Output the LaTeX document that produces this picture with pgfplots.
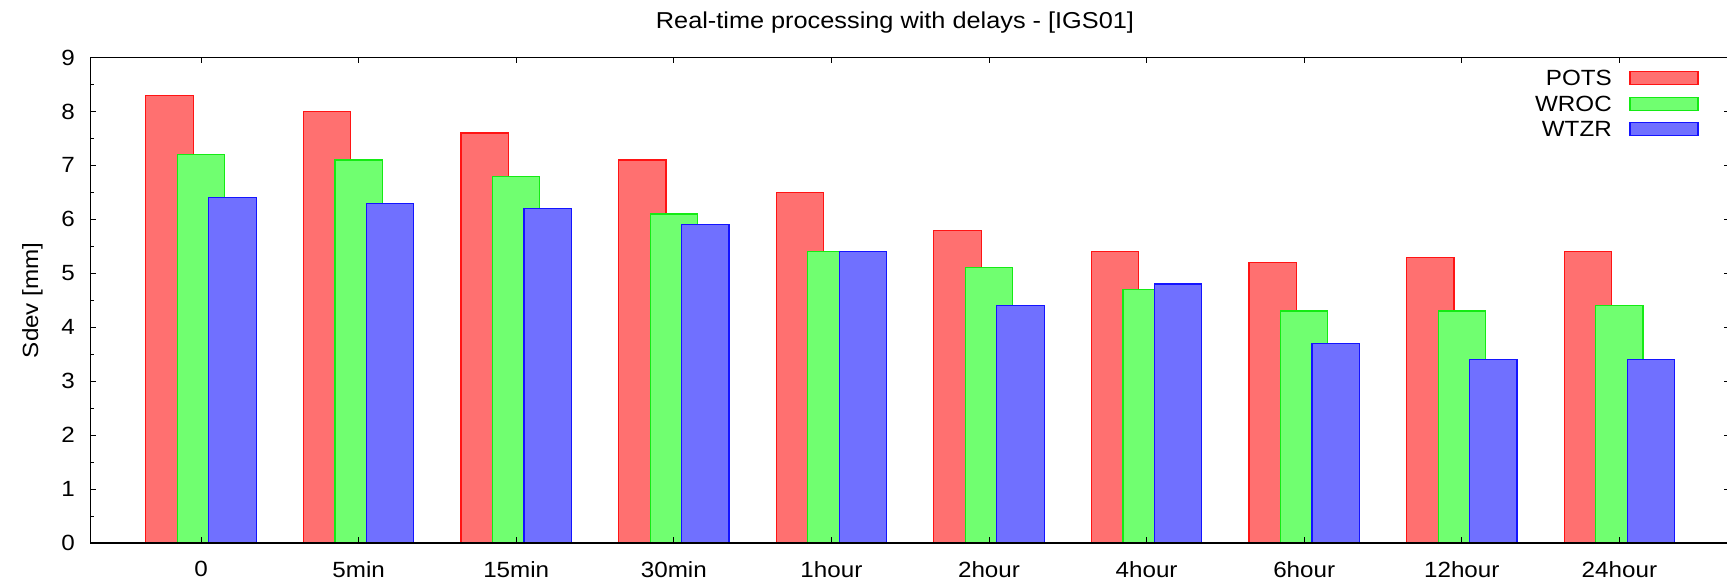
\documentclass[border=0pt]{standalone}
\usepackage{pgfplots}
\pgfplotsset{compat=1.18}
\usepackage{fontspec}
\setmainfont{Liberation Sans}[FakeStretch=1.1]
\definecolor{fr}{RGB}{255,112,112}
\definecolor{er}{RGB}{255,20,20}
\definecolor{fg}{RGB}{112,255,112}
\definecolor{eg}{RGB}{20,235,20}
\definecolor{fb}{RGB}{112,112,255}
\definecolor{eb}{RGB}{20,20,255}
\newcommand{\ff}{\fontsize{11}{13}\selectfont}
\newcommand{\tf}{\fontsize{11.5}{13.5}\selectfont}
\pgfplotsset{
  boxlegend/.style={legend image code/.code={\draw[##1] (0pt,-2.6pt) rectangle (34pt,3.8pt);}},
  mybar/.style={ybar, bar width=0.3, line width=0.6pt, boxlegend},
}
\begin{document}
\begin{tikzpicture}
\begin{axis}[
  scale only axis, width=819.5pt, height=242.75pt,
  xmin=-0.7, xmax=9.7, ymin=0, ymax=9,
  xtick={0,...,9},
  xticklabels={0,5min,15min,30min,1hour,2hour,4hour,6hour,12hour,24hour},
  ytick={0,...,9}, minor ytick={0.5,1.5,...,8.5},
  tick align=inside, major tick length=2.8pt, minor tick length=1.6pt,
  tick style={black, line width=0.5pt},
  axis line style={line width=0.6pt, black},
  /pgf/number format/assume math mode=true,
  tick label style={font=\ff},
  yticklabel style={xshift=-4.4pt},
  xticklabel style={yshift=-5.7pt},
  ylabel={Sdev [mm]},
  ylabel style={font=\ff, at={(axis description cs:-0.0355,0.5)}, anchor=center},
  every axis title shift=0pt,
  title={Real-time processing with delays - [IGS01]},
  title style={font=\tf, at={(axis description cs:0.4907,1.0602)}, anchor=base},
  legend plot pos=right, legend cell align=right,
  legend style={draw=none, fill=none, font=\ff, inner sep=0pt,
    at={(axis description cs:0.9813,0.9747)}, anchor=north east,
    row sep=3.6pt, column sep=8.85pt, nodes={inner sep=0pt}},
  axis on top,
]
\addplot[mybar, bar shift=-0.2, fill=fr, draw=er]
  coordinates {(0,8.3) (1,8.0) (2,7.6) (3,7.1) (4,6.5) (5,5.8) (6,5.4) (7,5.2) (8,5.3) (9,5.4)};
\addlegendentry{POTS}
\addplot[mybar, bar shift=0, fill=fg, draw=eg]
  coordinates {(0,7.2) (1,7.1) (2,6.8) (3,6.1) (4,5.4) (5,5.1) (6,4.7) (7,4.3) (8,4.3) (9,4.4)};
\addlegendentry{WROC}
\addplot[mybar, bar shift=0.2, fill=fb, draw=eb]
  coordinates {(0,6.4) (1,6.3) (2,6.2) (3,5.9) (4,5.4) (5,4.4) (6,4.8) (7,3.7) (8,3.4) (9,3.4)};
\addlegendentry{WTZR}
\end{axis}
\pgfresetboundingbox
\path[use as bounding box] (-45.35pt,-18.5pt) rectangle (818.15pt,271.5pt);
\end{tikzpicture}
\end{document}
